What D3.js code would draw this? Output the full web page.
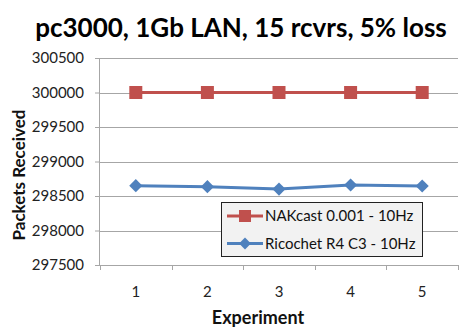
<!DOCTYPE html>
<html>
<head>
<meta charset="utf-8">
<script src="https://cdn.jsdelivr.net/npm/d3@7"></script>
<style>
  html, body { margin: 0; padding: 0; background: #fff; }
  svg { display: block; font-family: "Lato", "Open Sans", sans-serif; }
</style>
</head>
<body>
<svg id="chart" width="470" height="327"></svg>
<script>
// Packets received per experiment run, pc3000 testbed
const experiments = ["1", "2", "3", "4", "5"];
const nakcast = [300000, 300000, 300000, 300000, 300000];
const ricochet = [298650, 298635, 298600, 298660, 298645];
const yTicks = [297500, 298000, 298500, 299000, 299500, 300000, 300500];
const seriesNames = ["NAKcast 0.001 - 10Hz", "Ricochet R4 C3 - 10Hz"];

const svg = d3.select("#chart");
const plotLeft = 100, plotRight = 458, plotTop = 58, plotBottom = 265;

const x = d3.scaleBand().domain(experiments).range([plotLeft, plotRight]);
const y = d3.scaleLinear().domain([297500, 300500]).range([plotBottom, plotTop]);

const gridColor = "#a6a6a6";

// horizontal gridlines
svg.append("g").selectAll("line").data(yTicks.slice(1)).join("line")
  .attr("x1", plotLeft).attr("x2", plotRight)
  .attr("y1", d => Math.round(y(d)) + 0.5).attr("y2", d => Math.round(y(d)) + 0.5)
  .attr("stroke", gridColor).attr("stroke-width", 1);

// y axis
const yAxis = svg.append("g").attr("transform", `translate(${plotLeft},0)`)
  .call(d3.axisLeft(y).tickValues(yTicks).tickSize(5).tickPadding(11).tickFormat(d3.format("d")));
yAxis.select(".domain").attr("stroke", gridColor).attr("d", `M-0.5,${plotTop}V${plotBottom}`);
yAxis.selectAll(".tick line").attr("stroke", gridColor);
yAxis.selectAll(".tick text").attr("fill", "#222").style("font-size", "15px")
  .style("font-family", "Lato, 'Open Sans', sans-serif");

// x axis with ticks at category boundaries
const xAxisG = svg.append("g").attr("transform", `translate(0,${plotBottom})`);
xAxisG.append("line").attr("x1", plotLeft).attr("x2", plotRight).attr("y1", 0.5).attr("y2", 0.5)
  .attr("stroke", gridColor);
const bounds = experiments.map(d => x(d)).concat([x(experiments[experiments.length - 1]) + x.bandwidth()]);
xAxisG.selectAll("line.tk").data(bounds).join("line").attr("class", "tk")
  .attr("x1", d => Math.round(d) + 0.5).attr("x2", d => Math.round(d) + 0.5).attr("y1", 0).attr("y2", 5)
  .attr("stroke", gridColor);
xAxisG.selectAll("text").data(experiments).join("text")
  .attr("x", d => x(d) + x.bandwidth() / 2).attr("y", 32)
  .attr("text-anchor", "middle").attr("fill", "#222").style("font-size", "15px")
  .text(d => d);

// series lines and markers
const line = d3.line().x((d, i) => x(experiments[i]) + x.bandwidth() / 2).y(d => y(d));

svg.append("path").datum(nakcast).attr("d", line)
  .attr("fill", "none").attr("stroke", "#c0504d").attr("stroke-width", 3);
svg.append("g").selectAll("rect").data(nakcast).join("rect")
  .attr("x", (d, i) => x(experiments[i]) + x.bandwidth() / 2 - 6.5)
  .attr("y", d => y(d) - 6.5)
  .attr("width", 13).attr("height", 13).attr("fill", "#c0504d");

svg.append("path").datum(ricochet).attr("d", line)
  .attr("fill", "none").attr("stroke", "#4f81bd").attr("stroke-width", 3);
const diamond = d3.symbol().type(d3.symbolDiamond2).size(110);
svg.append("g").selectAll("path").data(ricochet).join("path")
  .attr("d", diamond)
  .attr("transform", (d, i) => `translate(${x(experiments[i]) + x.bandwidth() / 2},${y(d)})`)
  .attr("fill", "#4f81bd");

// legend
const lg = svg.append("g").attr("transform", "translate(221,202)");
lg.append("rect").attr("x", 0.5).attr("y", 0.5).attr("width", 201).attr("height", 54)
  .attr("fill", "#f2f2f2").attr("stroke", "#222").attr("stroke-width", 1);
const colors = ["#c0504d", "#4f81bd"];
seriesNames.forEach((name, i) => {
  const cy = 14 + i * 27.5;
  lg.append("line").attr("x1", 6).attr("x2", 42).attr("y1", cy).attr("y2", cy)
    .attr("stroke", colors[i]).attr("stroke-width", 3);
  if (i === 0) {
    lg.append("rect").attr("x", 24 - 6).attr("y", cy - 6).attr("width", 12).attr("height", 12)
      .attr("fill", colors[i]);
  } else {
    lg.append("path").attr("d", d3.symbol().type(d3.symbolDiamond2).size(90))
      .attr("transform", `translate(24,${cy})`).attr("fill", colors[i]);
  }
  lg.append("text").attr("x", 44).attr("y", cy + 5).attr("fill", "#111")
    .style("font-size", "15px").text(name);
});

// titles
svg.append("text").attr("x", 241).attr("y", 37).attr("text-anchor", "middle")
  .style("font-size", "26px").style("font-weight", "bold").attr("fill", "#000")
  .text("pc3000, 1Gb LAN, 15 rcvrs, 5% loss");
svg.append("text").attr("x", 258).attr("y", 324).attr("text-anchor", "middle")
  .style("font-size", "18px").style("font-weight", "bold").attr("fill", "#111")
  .text("Experiment");
svg.append("text").attr("transform", "translate(25,175) rotate(-90)").attr("text-anchor", "middle")
  .style("font-size", "17px").style("font-weight", "bold").attr("fill", "#111")
  .text("Packets Received");
</script>
</body>
</html>
